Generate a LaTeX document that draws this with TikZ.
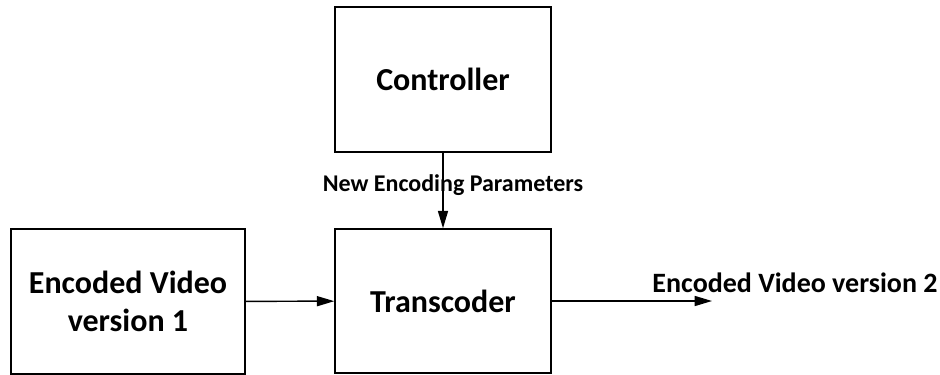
\documentclass[tikz,border=0pt]{standalone}
\usepackage{fontspec}
\setmainfont{Carlito}
\usetikzlibrary{arrows.meta}
\begin{document}
\begin{tikzpicture}[x=0.75pt,y=-0.75pt,
  block/.style={draw,line width=1.1pt,inner sep=0pt,align=center,
    font=\fontsize{24}{29}\selectfont\bfseries},
  link/.style={line width=1.1pt,-{Triangle[length=13pt,width=7.5pt]}},
  lbl/.style={inner sep=0pt,font=\fontsize{18}{22}\selectfont\bfseries}]
  \useasboundingbox (0,0) rectangle (940,375);
  \node[block,minimum width=162pt,minimum height=108.75pt] (ctrl) at (443,79.5) {Controller};
  \node[block,minimum width=162pt,minimum height=108pt] (trans) at (443,301) {Transcoder};
  \node[block,minimum width=175.5pt,minimum height=108.75pt] (src) at (128,301.5) {Encoded Video\\version 1};
  \coordinate (out) at (712,301);
  \draw[link] (ctrl) -- (trans);
  \draw[link] (src) -- (trans);
  \draw[link] (trans) -- (out);
  \node[lbl] (param) at (453,185) {New Encoding Parameters};
  \node[lbl,font=\fontsize{21}{25}\selectfont\bfseries] (outlbl) at (795,283) {Encoded Video version 2};
\end{tikzpicture}
\end{document}
